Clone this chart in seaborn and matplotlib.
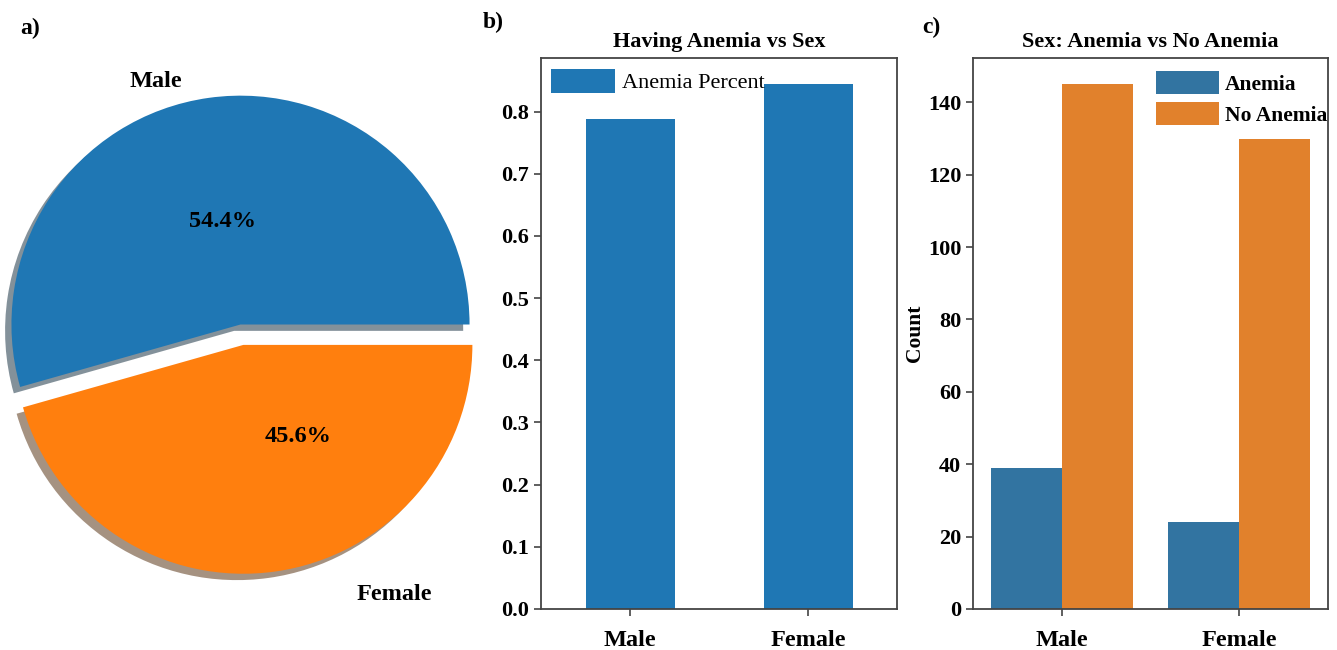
import matplotlib
matplotlib.use("Agg")
import matplotlib.pyplot as plt
import seaborn as sns
import pandas as pd

# --- data -------------------------------------------------------------
sexes = ["Male", "Female"]
sex_share = [54.4, 45.6]                 # percent of patients
anemia_percent = [0.788, 0.844]          # share per sex
status = ["Anemia", "No Anemia"]
count_anemia = [39, 24]
count_no_anemia = [145, 130]

# --- style ------------------------------------------------------------
sns.set_style("ticks")
plt.rcParams["font.family"] = ["Liberation Serif", "DejaVu Serif"]
plt.rcParams["text.color"] = "black"
plt.rcParams["axes.labelcolor"] = "black"
plt.rcParams["axes.edgecolor"] = "#444444"
plt.rcParams["axes.linewidth"] = 1.3
plt.rcParams["xtick.color"] = "#444444"
plt.rcParams["ytick.color"] = "#444444"

BLUE = "#1f77b4"
ORANGE = "#ff7f0e"

fig = plt.figure(figsize=(13.37, 6.5), dpi=100)
W, H = 1337.0, 650.0


def rect(left, top, right, bottom):
    return [left / W, 1 - bottom / H, (right - left) / W, (bottom - top) / H]


# --- a) pie -----------------------------------------------------------
ax_a = fig.add_axes(rect(0, 27, 481, 622))
wedges, texts, autotexts = ax_a.pie(
    sex_share, labels=sexes, colors=[BLUE, ORANGE], explode=(0, 0.09),
    shadow=True, autopct="%1.1f%%", startangle=0,
    wedgeprops=dict(linewidth=0, edgecolor="none"),
    textprops=dict(fontsize=17.5, fontweight="bold", color="black"),
)
ax_a.set_xlim(-1.05, 1.05)
ax_a.set_ylim(-1.3, 1.3)
ax_a.set_aspect("auto")
label_pos = [(-0.37, 1.06), (0.67, -1.18)]
pct_pos = [(-0.08, 0.45), (0.25, -0.49)]
for t, p in zip(texts, label_pos):
    t.set_position(p)
    t.set_ha("center")
    t.set_va("center")
for t, p in zip(autotexts, pct_pos):
    t.set_position(p)
    t.set_ha("center")
    t.set_va("center")

# --- b) bar chart of anemia percent ----------------------------------
ax_b = fig.add_axes(rect(541, 58, 897, 609))
df_b = pd.DataFrame({"Sex": sexes, "Anemia Percent": anemia_percent})
sns.barplot(data=df_b, x="Sex", y="Anemia Percent", color=BLUE,
            saturation=1, width=0.5, linewidth=0, ax=ax_b)
ax_b.set_ylim(0, max(anemia_percent) * 1.05)
ax_b.set_xlim(-0.5, 1.5)
ax_b.set_xlabel("")
ax_b.set_ylabel("")
ax_b.set_title("Having Anemia vs Sex", fontsize=16, fontweight="bold", pad=8)
ax_b.legend([ax_b.patches[0]], ["Anemia Percent"], loc="upper left",
            bbox_to_anchor=(-0.01, 1.005),
            fontsize=16, frameon=False, handlelength=2.9, handleheight=1.3,
            borderaxespad=0.2, handletextpad=0.3)

# --- c) counts by sex and anemia status ------------------------------
ax_c = fig.add_axes(rect(973, 58, 1328, 609))
df_c = pd.DataFrame({
    "Sex": sexes * 2,
    "Status": [status[0]] * 2 + [status[1]] * 2,
    "Count": count_anemia + count_no_anemia,
})
sns.barplot(data=df_c, x="Sex", y="Count", hue="Status",
            palette=[BLUE, ORANGE], linewidth=0, ax=ax_c)
ax_c.set_ylim(0, max(count_no_anemia) * 1.05)
ax_c.set_xlabel("")
ax_c.set_ylabel("Count", fontsize=15.5, fontweight="bold", labelpad=2)
ax_c.set_title("Sex: Anemia vs No Anemia", fontsize=16, fontweight="bold", pad=8)
leg = ax_c.legend(loc="upper right", bbox_to_anchor=(1.035, 1.0),
                  frameon=False, handlelength=2.9,
                  handleheight=1.25, borderaxespad=0.2, handletextpad=0.3,
                  labelspacing=0.35,
                  prop=dict(size=15.5, weight="bold"), title=None)

for ax in (ax_b, ax_c):
    for side in ("top", "right", "left", "bottom"):
        ax.spines[side].set_visible(True)
    ax.tick_params(axis="y", labelsize=16, length=5, width=1.2)
    ax.tick_params(axis="x", labelsize=17.5, length=5, width=1.2, pad=10)
    for lab in ax.get_xticklabels() + ax.get_yticklabels():
        lab.set_fontweight("bold")
        lab.set_color("black")

# panel letters
fig.text(30 / W, 1 - 28 / H, "a)", fontsize=17, fontweight="bold", ha="center", va="center")
fig.text(493 / W, 1 - 22 / H, "b)", fontsize=17, fontweight="bold", ha="center", va="center")
fig.text(931 / W, 1 - 27 / H, "c)", fontsize=17, fontweight="bold", ha="center", va="center")

fig.savefig("out.png", dpi=100)
